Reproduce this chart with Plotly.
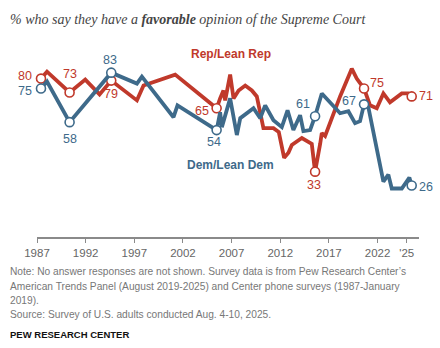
import plotly.graph_objects as go

# ---- data ----
rep_years = [1987.41, 1988.03, 1990.35, 1991.96, 1993.43, 1994.63, 1997.27, 1997.95, 2001.2,
             2005.46, 2005.82, 2006.16, 2006.34, 2006.85, 2007.2, 2007.72, 2008.4, 2009.08,
             2009.59, 2010.27, 2011.3, 2011.85, 2012.4, 2012.84, 2013.19, 2014.22, 2015.24,
             2015.58, 2016.1, 2016.27, 2016.61, 2016.95, 2018.15, 2019.35, 2019.86, 2020.61,
             2021.23, 2021.92, 2022.6, 2023.28, 2024.49, 2025.16, 2025.51]
rep_values = [80, 83.5, 73, 79.5, 72, 79, 69, 76.5, 82,
              65, 70, 74, 69, 82, 70, 74, 76.5, 74,
              71, 55, 55, 53, 40, 42.5, 46.5, 50, 47,
              33, 47, 52.5, 51, 55.5, 71, 85, 80, 75,
              66.5, 65, 72.5, 68, 72.5, 72.5, 71]

dem_years = [1987.41, 1988.03, 1990.35, 1994.63, 1997.27, 1997.78, 2001.03, 2001.44,
             2005.46, 2005.82, 2006.0, 2006.85, 2007.54, 2007.89, 2009.25, 2009.94,
             2010.45, 2011.3, 2012.16, 2012.75, 2013.35, 2014.04, 2014.38, 2015.07,
             2015.58, 2016.27, 2018.15, 2019.0, 2019.69, 2020.2, 2020.61, 2021.06,
             2022.6, 2023.11, 2023.46, 2024.49, 2025.27, 2025.51]
dem_values = [75, 78.5, 58, 83, 77.5, 81, 60.5, 66.5,
              54, 63, 55.5, 70, 51.5, 60, 65, 60,
              66.5, 59, 55.5, 64, 54, 61.5, 53.5, 54,
              61, 72.5, 62.5, 63.5, 57.5, 58.5, 67, 65.5,
              28, 31.5, 24.5, 24.5, 30, 26]

# indices of the labeled survey points
rep_labeled = [0, 2, 5, 9, 27, 35, 42]
dem_labeled = [0, 2, 3, 8, 24, 30, 37]

tick_vals = [1987, 1992, 1997, 2002, 2007, 2012, 2017, 2022, 2025]
tick_text = ["1987", "1992", "1997", "2002", "2007", "2012", "2017", "2022", "'25"]

rep_name = "Rep/Lean Rep"
dem_name = "Dem/Lean Dem"

RED = "#C0392B"
BLUE = "#3E6A8A"

W, H = 440, 348
ML, MR, MT, MB = 36.7, 21, 38.5, 110.5
PW, PH = W - ML - MR, H - MT - MB


def px(x):
    return (x - ML) / PW


def py(y):
    return (H - MB - y) / PH


fig = go.Figure()
for yrs, vals, col, lab in [(rep_years, rep_values, RED, rep_labeled),
                            (dem_years, dem_values, BLUE, dem_labeled)]:
    fig.add_trace(go.Scatter(x=yrs, y=vals, mode="lines",
                             line=dict(color=col, width=3.8),
                             hoverinfo="skip", cliponaxis=False, showlegend=False))
    fig.add_trace(go.Scatter(x=[yrs[i] for i in lab], y=[vals[i] for i in lab],
                             mode="markers",
                             marker=dict(size=9, color="white",
                                         line=dict(color=col, width=1.6)),
                             hoverinfo="skip", cliponaxis=False, showlegend=False))

# value labels: (years, values, index, color, xshift, yshift, xanchor)
label_specs = [
    (rep_years, rep_values, 0, RED, -7, 3, "right"),
    (dem_years, dem_values, 0, BLUE, -7, -2, "right"),
    (rep_years, rep_values, 2, RED, 0, 18, "center"),
    (dem_years, dem_values, 2, BLUE, 0, -17, "center"),
    (dem_years, dem_values, 3, BLUE, -1, 13, "center"),
    (rep_years, rep_values, 5, RED, 0, -13, "center"),
    (rep_years, rep_values, 9, RED, -6, -3, "right"),
    (dem_years, dem_values, 8, BLUE, -3, -12, "center"),
    (dem_years, dem_values, 24, BLUE, -12, 12, "center"),
    (rep_years, rep_values, 27, RED, -1, -13, "center"),
    (dem_years, dem_values, 30, BLUE, -6, 3, "right"),
    (rep_years, rep_values, 35, RED, 4, 6, "left"),
    (rep_years, rep_values, 42, RED, 5, 0, "left"),
    (dem_years, dem_values, 37, BLUE, 5, -1, "left"),
]
for yrs, vals, i, col, xs, ys, xa in label_specs:
    fig.add_annotation(x=yrs[i], y=vals[i], text=f"{vals[i]:g}", showarrow=False,
                       xshift=xs, yshift=ys, xanchor=xa, yanchor="middle",
                       font=dict(family="Liberation Sans, Arial, sans-serif", size=12.5, color=col))

# series names
fig.add_annotation(x=px(230.5), y=py(54), xref="paper", yref="paper", text=f"<b>{rep_name}</b>",
                   showarrow=False, xanchor="center", yanchor="middle",
                   font=dict(family="Liberation Sans, Arial, sans-serif", size=12, color=RED))
fig.add_annotation(x=px(230), y=py(165), xref="paper", yref="paper", text=f"<b>{dem_name}</b>",
                   showarrow=False, xanchor="center", yanchor="middle",
                   font=dict(family="Liberation Sans, Arial, sans-serif", size=12, color=BLUE))

# title
fig.add_annotation(x=px(8), y=py(19), xref="paper", yref="paper",
                   text="<i>% who say they have a <b>favorable</b> opinion of the Supreme Court</i>",
                   showarrow=False, xanchor="left", yanchor="middle",
                   font=dict(family="Liberation Serif, Georgia, serif", size=14, color="#444444"))

# notes
notes = [
    ("Note: No answer responses are not shown. Survey data is from Pew Research Center\u2019s", 272.3),
    ("American Trends Panel (August 2019-2025) and Center phone surveys (1987-January", 287.0),
    ("2019).", 301.0),
    ("Source: Survey of U.S. adults conducted Aug. 4-10, 2025.", 315.0),
]
for txt, yy in notes:
    fig.add_annotation(x=px(8), y=py(yy), xref="paper", yref="paper", text=txt,
                       showarrow=False, xanchor="left", yanchor="middle",
                       font=dict(family="Liberation Sans, Arial, sans-serif", size=10.2, color="#777777"))
fig.add_annotation(x=px(8), y=py(335), xref="paper", yref="paper", text="<b>PEW RESEARCH CENTER</b>",
                   showarrow=False, xanchor="left", yanchor="middle",
                   font=dict(family="Liberation Sans, Arial, sans-serif", size=9.5, color="#111111"))

fig.update_layout(
    width=W, height=H,
    margin=dict(l=ML, r=MR, t=MT, b=MB, pad=0),
    paper_bgcolor="white", plot_bgcolor="white",
    xaxis=dict(range=[1987, 2026.26], tickvals=tick_vals, ticktext=tick_text,
               showgrid=False, zeroline=False, showline=True, linecolor="#8a8a8a", linewidth=1.5,
               ticks="outside", ticklen=4, tickwidth=1.2, tickcolor="#8a8a8a",
               tickfont=dict(family="Liberation Sans, Arial, sans-serif", size=11.5, color="#666666")),
    yaxis=dict(range=[0, 100], visible=False, showgrid=False, zeroline=False),
)

fig.write_html("out.html")
